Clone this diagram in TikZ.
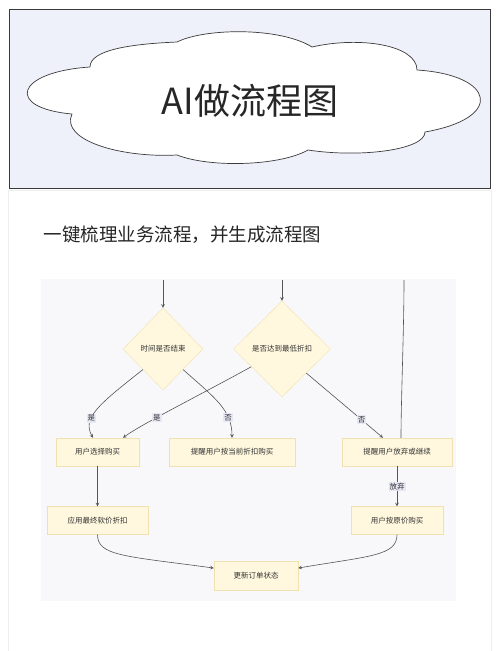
\documentclass[tikz,border=0pt]{standalone}
\usepackage{fontspec}
\setmainfont{Noto Sans CJK SC}
\usepackage{xcolor}
\usetikzlibrary{shapes.geometric}
\definecolor{headfill}{HTML}{EEF0FA}
\definecolor{headline}{HTML}{3A3A3A}
\definecolor{panelfill}{HTML}{F8F8FA}
\definecolor{panelline}{HTML}{EEEEEE}
\definecolor{nodefill}{HTML}{FFF8DE}
\definecolor{nodeline}{HTML}{F0E2B0}
\definecolor{lblfill}{HTML}{E6E6F4}
\definecolor{edgegray}{HTML}{555555}
\definecolor{textgray}{HTML}{333333}
\tikzset{
	decision/.style={
			draw=nodeline,
			fill=nodefill,
			diamond,
			inner sep=0pt,
			text=textgray,
			font=\fontsize{7.5}{9}\selectfont
		},
	process/.style={
			draw=nodeline,
			fill=nodefill,
			rectangle,
			minimum height=28pt,
			inner sep=0pt,
			text=textgray,
			font=\fontsize{7.5}{9}\selectfont
		},
	lbl/.style={
			fill=lblfill,
			inner sep=1pt,
			text=textgray,
			font=\fontsize{7.5}{9}\selectfont
		},
	flow/.style={draw=edgegray, line width=0.6pt, -stealth}
}

\begin{document}
\begin{tikzpicture}[x=1pt,y=1pt]
		\useasboundingbox (0,0) rectangle (500,-651);
		\fill[white] (0,0) rectangle (500,-651);
		\draw[panelline, fill=white] (8,-190) rectangle (491,-660);

		% Header with cloud
		\node[draw=headline,
			fill=headfill,
			line width=0.8pt,
			minimum width=481pt,
			minimum height=179pt
		] (head) at (249.5,-98.5) {};

		\draw[headline, fill=white, line width=0.7pt]
		(90,-67) .. controls (90,-50) and (130,-44) .. (177,-42)
		.. controls (205,-28) and (280,-27) .. (312,-47)
		.. controls (360,-36) and (417,-45) .. (417,-70)
		.. controls (495,-75) and (505,-118) .. (425,-132)
		.. controls (425,-150) and (360,-158) .. (308,-150)
		.. controls (280,-166) and (210,-168) .. (177,-155)
		.. controls (120,-158) and (60,-140) .. (72,-114)
		.. controls (5,-108) and (15,-72) .. cycle;

		\node[font=\fontsize{36}{40}\selectfont,
			text=black!85
		] (title) at (250,-101) {AI做流程图};

		% Subtitle
		\node[anchor=west,
			font=\fontsize{18.5}{22}\selectfont,
			text=black!85
		] (subtitle) at (40,-235) {一键梳理业务流程，并生成流程图};

		% Diagram panel
		\fill[panelfill] (41,-279) rectangle (456,-601);

		% Decisions
		\node[decision,
			minimum width=80pt,
			minimum height=82pt
		] (d1) at (163,-349) {时间是否结束};

		\node[decision,
			minimum width=97pt,
			minimum height=96pt
		] (d2) at (282,-349) {是否达到最低折扣};

		% Steps
		\node[process, minimum width=83pt] (a) at (97.5,-452) {用户选择购买};
		\node[process, minimum width=126pt] (b) at (232,-452) {提醒用户按当前折扣购买};
		\node[process, minimum width=110pt] (c) at (397,-452) {提醒用户放弃或继续};
		\node[process, minimum width=101pt] (d) at (97.5,-520.5) {应用最终软价折扣};
		\node[process, minimum width=92pt] (e) at (397,-520.5) {用户按原价购买};
		\node[process, minimum width=84pt, minimum height=29pt] (f) at (256,-575.5) {更新订单状态};

		% Loose ends at the top
		\coordinate (in1) at (163,-280);
		\coordinate (in2) at (282,-280);
		\coordinate (back) at (404,-280);

		% Arrows with text label
		\draw[flow] (in1) -- (d1.north);
		\draw[flow] (in2) -- (d2.north);
		\draw[draw=edgegray, line width=0.6pt] ([xshift=4pt]c.north)
		.. controls (401,-400) and (404,-330) .. (back);

		\draw[flow] (d1.south west) .. controls (98,-405) and (82,-418) .. ([xshift=-4.5pt]a.north)
		node[lbl, pos=0.65]{是};

		\draw[flow] (d2.210) .. controls (200,-395) and (140,-425) .. ([xshift=25.5pt]a.north)
		node[lbl, pos=0.63]{是};

		\draw[flow] (d1.south east) .. controls (215,-398) and (232,-410) .. (b.north)
		node[lbl, pos=0.72]{否};

		\draw[flow] (d2.south east) -- ([xshift=-14pt]c.north)
		node[lbl, pos=0.72]{否};

		\draw[flow] (a.south) -- (d.north);

		\draw[flow] (c.south) -- (e.north)
		node[lbl, midway]{放弃};

		\draw[flow] (d.south) .. controls (97.5,-556) and (125,-556) .. (f.170);
		\draw[flow] (e.south) .. controls (397,-556) and (369,-556) .. (f.10);
	\end{tikzpicture}
\end{document}
